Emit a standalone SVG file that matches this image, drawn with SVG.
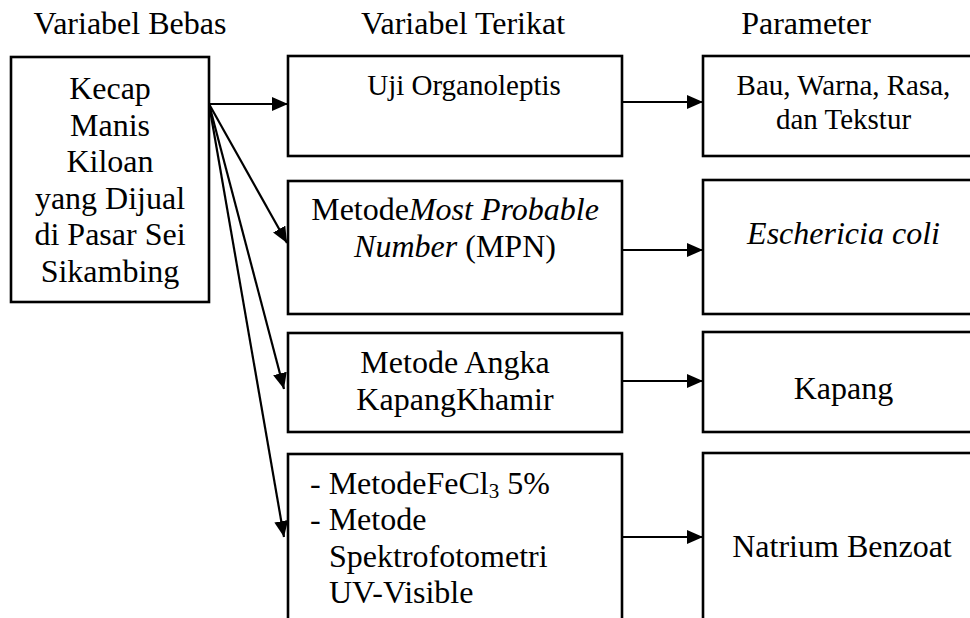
<svg xmlns="http://www.w3.org/2000/svg" width="970" height="618" viewBox="0 0 970 618">
<defs>
<marker id="ah" markerUnits="userSpaceOnUse" markerWidth="17" markerHeight="15" refX="16" refY="7" orient="auto">
<path d="M0,0 L16,7 L0,14 z" fill="#000"/>
</marker>
</defs>
<rect x="0" y="0" width="970" height="618" fill="#fff"/>
<g font-family="Liberation Serif" font-size="32" fill="#000">
<g id="headers" text-anchor="middle">
<text x="130" y="34">Variabel Bebas</text>
<text x="463" y="34">Variabel Terikat</text>
<text x="806" y="34">Parameter</text>
</g>
<g id="kecap" text-anchor="middle">
<rect x="11" y="57" width="198" height="245" fill="#fff" stroke="#000" stroke-width="2.6"/>
<text x="110" y="99">Kecap</text>
<text x="110" y="135.5">Manis</text>
<text x="110" y="172">Kiloan</text>
<text x="110" y="208.5">yang Dijual</text>
<text x="110" y="245">di Pasar Sei</text>
<text x="110" y="281.5">Sikambing</text>
</g>
<g id="uji" text-anchor="middle">
<rect x="288" y="56" width="334" height="100" fill="#fff" stroke="#000" stroke-width="2.6"/>
<text x="464" y="95" font-size="29">Uji Organoleptis</text>
</g>
<g id="mpn" text-anchor="middle">
<rect x="288" y="181" width="334" height="133" fill="#fff" stroke="#000" stroke-width="2.6"/>
<text x="455" y="220">Metode<tspan font-style="italic">Most Probable</tspan></text>
<text x="455" y="256.5"><tspan font-style="italic">Number</tspan> (MPN)</text>
</g>
<g id="akk" text-anchor="middle">
<rect x="288" y="333" width="334" height="99" fill="#fff" stroke="#000" stroke-width="2.6"/>
<text x="455" y="373">Metode Angka</text>
<text x="455" y="409.5">KapangKhamir</text>
</g>
<g id="fecl">
<rect x="288" y="454" width="334" height="190" fill="#fff" stroke="#000" stroke-width="2.6"/>
<text x="310" y="493.5">- MetodeFeCl<tspan font-size="21" dy="4">3</tspan><tspan dy="-4"> 5%</tspan></text>
<text x="310" y="530">- Metode</text>
<text x="329" y="566.5">Spektrofotometri</text>
<text x="329" y="603">UV-Visible</text>
</g>
<g id="bau" text-anchor="middle">
<rect x="703" y="56" width="282" height="100" fill="#fff" stroke="#000" stroke-width="2.6"/>
<text x="843.5" y="94.5" font-size="29">Bau, Warna, Rasa,</text>
<text x="843.5" y="128.5" font-size="29">dan Tekstur</text>
</g>
<g id="ecoli" text-anchor="middle">
<rect x="703" y="180" width="282" height="134" fill="#fff" stroke="#000" stroke-width="2.6"/>
<text x="843.5" y="244" font-style="italic">Eschericia coli</text>
</g>
<g id="kapang" text-anchor="middle">
<rect x="703" y="332" width="282" height="100" fill="#fff" stroke="#000" stroke-width="2.6"/>
<text x="843.5" y="398.5">Kapang</text>
</g>
<g id="natrium" text-anchor="middle">
<rect x="703" y="453" width="282" height="190" fill="#fff" stroke="#000" stroke-width="2.6"/>
<text x="842" y="557">Natrium Benzoat</text>
</g>
</g>
<g id="connectors" stroke="#000" stroke-width="2.2" marker-end="url(#ah)">
<line x1="209" y1="104" x2="288" y2="104"/>
<line x1="209" y1="104" x2="287" y2="243"/>
<line x1="209" y1="104" x2="284" y2="389"/>
<line x1="209" y1="104" x2="284" y2="537"/>
<line x1="622" y1="102" x2="703" y2="102"/>
<line x1="622" y1="250" x2="703" y2="250"/>
<line x1="622" y1="381" x2="703" y2="381"/>
<line x1="622" y1="537" x2="703" y2="537"/>
</g>
</svg>
